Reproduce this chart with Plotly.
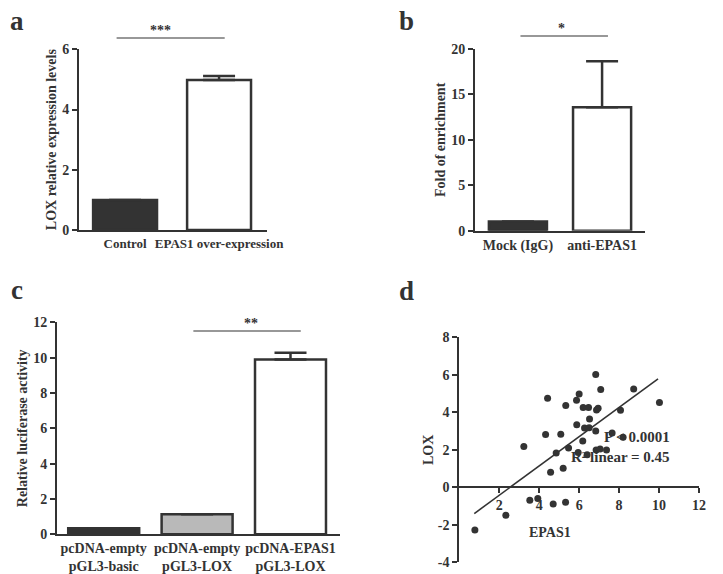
import plotly.graph_objects as go

# the page body keeps an 8px margin, so the figure is drawn 8px smaller
PAGE_W, PAGE_H = 723, 574
OFF = 8
W, H = PAGE_W - OFF, PAGE_H - OFF
INK = '#333333'
FONT = 'Liberation Serif'

# ---- data ----
# panel a
a_groups = ['Control', 'EPAS1 over-expression']
a_means = [1.0, 4.98]
a_err = [0.0, 0.13]

# panel b
b_groups = ['Mock (IgG)', 'anti-EPAS1']
b_means = [1.0, 13.6]
b_err = [0.0, 5.05]

# panel c
c_groups = ['pcDNA-empty<br>pGL3-basic', 'pcDNA-empty<br>pGL3-LOX', 'pcDNA-EPAS1<br>pGL3-LOX']
c_means = [0.34, 1.13, 9.9]
c_err = [0.0, 0.0, 0.38]

# panel d
d_epas1 = [0.78, 2.33, 3.23, 3.53, 3.93, 4.32, 4.42, 4.57, 4.70, 4.85,
           5.08, 5.20, 5.32, 5.33, 5.47, 5.87, 5.88, 5.95, 6.00, 6.18,
           6.20, 6.27, 6.40, 6.47, 6.52, 6.50, 6.83, 6.83, 6.85, 6.87,
           6.95, 7.05, 7.08, 7.37, 7.65, 8.07, 8.20, 8.73, 10.02]
d_lox = [-2.28, -1.49, 2.17, -0.69, -0.60, 2.81, 4.75, 0.80, -0.89, 1.83,
         2.83, 1.01, -0.80, 4.36, 2.10, 4.64, 3.34, 1.85, 4.98, 2.47,
         4.25, 3.16, 1.74, 4.25, 3.64, 3.18, 6.01, 3.00, 1.99, 4.12,
         4.21, 2.04, 5.21, 1.99, 2.90, 4.11, 2.67, 5.24, 4.52]
fit_x = [0.75, 9.95]
fit_y = [-1.40, 5.78]
d_xticks = [2, 4, 6, 8, 10, 12]
d_yticks = [-4, -2, 0, 2, 4, 6, 8]


def px(x):
    # page pixel -> paper fraction
    return (x - OFF) / W


def py(y):
    return 1 - (y - OFF) / H


def font(size):
    return dict(family=FONT, size=size, color=INK, weight='bold')


fig = go.Figure()

bar_line = dict(color=INK, width=2.5)


def err(values):
    return dict(type='data', array=values, arrayminus=[0] * len(values),
                symmetric=False, color=INK, thickness=2.5, width=16)


# panel a bars
fig.add_trace(go.Bar(
    x=a_groups, y=a_means, width=0.68,
    marker=dict(color=[INK, 'white'], line=bar_line),
    error_y=err(a_err), xaxis='x', yaxis='y'
))

# panel b bars
fig.add_trace(go.Bar(
    x=b_groups, y=b_means, width=0.69,
    marker=dict(color=[INK, 'white'], line=bar_line),
    error_y=err(b_err), xaxis='x2', yaxis='y2'
))

# panel c bars
fig.add_trace(go.Bar(
    x=c_groups, y=c_means, width=0.76,
    marker=dict(color=[INK, '#b9b9b9', 'white'], line=bar_line),
    error_y=err(c_err), xaxis='x3', yaxis='y3'
))

# panel d scatter + fit line
fig.add_trace(go.Scatter(
    x=d_epas1, y=d_lox, mode='markers',
    marker=dict(color=INK, size=7),
    cliponaxis=False, xaxis='x4', yaxis='y4'
))
fig.add_trace(go.Scatter(
    x=fit_x, y=fit_y, mode='lines',
    line=dict(color=INK, width=1.6),
    cliponaxis=False, xaxis='x4', yaxis='y4'
))

cat_axis = dict(type='category', showline=True, linecolor=INK, linewidth=2,
                ticks='', showgrid=False, zeroline=False, tickfont=font(14),
                tickangle=0, automargin=False)
num_axis = dict(showline=True, linecolor=INK, linewidth=2, ticks='outside',
                ticklen=5, tickwidth=2, tickcolor=INK, showgrid=False,
                zeroline=False, tickfont=font(14), automargin=False)


def ytitle(text):
    return dict(text=text, font=font(14), standoff=2)


fig.update_layout(
    width=W, height=H,
    margin=dict(l=0, r=0, t=0, b=0),
    paper_bgcolor='white', plot_bgcolor='white',
    showlegend=False,
    font=font(13),
    # panel a
    xaxis=dict(cat_axis, domain=[px(79), px(267)], range=[-0.49, 1.51], anchor='y',
               tickfont=font(13)),
    yaxis=dict(num_axis, domain=[py(230), py(49.3)], range=[0, 6], dtick=2,
               anchor='x', title=ytitle('LOX relative expression levels')),
    # panel b
    xaxis2=dict(cat_axis, domain=[px(475), px(645)], range=[-0.51, 1.51], anchor='y2'),
    yaxis2=dict(num_axis, domain=[py(230.7), py(49)], range=[0, 20], dtick=5,
                anchor='x2', title=ytitle('Fold of enrichment')),
    # panel c
    xaxis3=dict(cat_axis, domain=[px(57), px(340)], range=[-0.5, 2.53], anchor='y3'),
    yaxis3=dict(num_axis, domain=[py(534.3), py(322.3)], range=[0, 12], dtick=2,
                anchor='x3', title=ytitle('Relative luciferase activity')),
    # panel d
    xaxis4=dict(num_axis, domain=[px(459.3), px(699)], range=[0, 12],
                tickvals=d_xticks, anchor='free', position=py(487.3)),
    yaxis4=dict(num_axis, domain=[py(562.3), py(337.3)], range=[-4, 8],
                tickvals=d_yticks, ticktext=[str(v) for v in d_yticks], anchor='x4'),
)

# significance bars
sig = [
    ('x', -0.09, 1.06, 38, '***', 0.38, 30),
    ('x2', 0.03, 1.07, 36, '*', 0.52, 28),
    ('x3', 0.96, 2.11, 331, '**', 1.58, 323),
]
for xref, x0, x1, yline, stars, xs, ys in sig:
    fig.add_shape(type='line', xref=xref, yref='paper', x0=x0, x1=x1,
                  y0=py(yline), y1=py(yline), line=dict(color=INK, width=1.2))
    fig.add_annotation(xref=xref, yref='paper', x=xs, y=py(ys), text=stars,
                       showarrow=False, font=font(14), yanchor='middle')

# panel letters (kept inside the figure's own box)
for letter, x, y in [('a', 17, 21), ('b', 407, 21), ('c', 17, 290), ('d', 407, 291)]:
    fig.add_annotation(xref='paper', yref='paper', x=px(x), y=py(y), text=letter,
                       showarrow=False, font=font(27), xanchor='center', yanchor='middle')

# panel d texts
fig.add_annotation(xref='paper', yref='paper', x=px(428), y=py(467), text='LOX',
                   textangle=-90, showarrow=False, font=font(14))
fig.add_annotation(xref='paper', yref='paper', x=px(573), y=py(542), text='EPAS1',
                   showarrow=False, font=font(14))
fig.add_annotation(xref='paper', yref='paper', x=px(672), y=py(447), text='P &lt; 0.0001',
                   showarrow=False, font=font(15))
fig.add_annotation(xref='paper', yref='paper', x=px(672), y=py(467),
                   text='R² linear = 0.45', showarrow=False, font=font(15))

fig.write_html("out.html")
